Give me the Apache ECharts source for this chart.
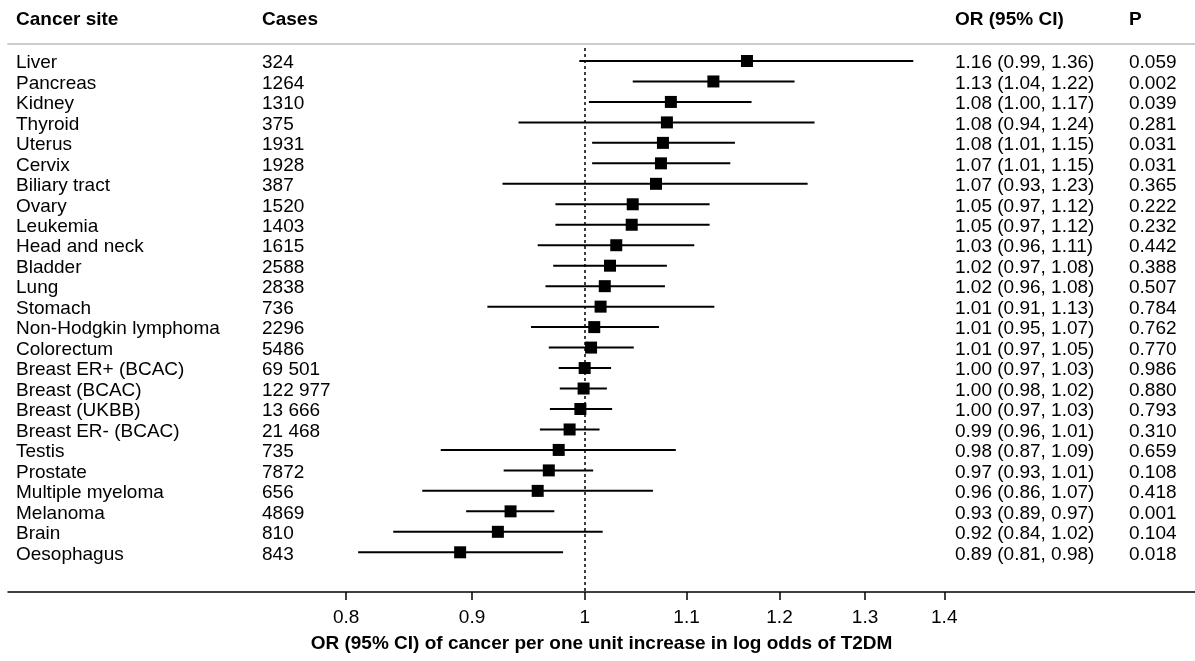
<!DOCTYPE html>
<html>
<head>
<meta charset="utf-8">
<script src="https://cdn.jsdelivr.net/npm/echarts@6/dist/echarts.min.js"></script>
<style>
  html, body { margin: 0; padding: 0; background: #fff; }
  #forest { width: 1195px; height: 661px; }
</style>
</head>
<body>
<div id="forest"></div>
<script>
// rows, top to bottom
var sites = ['Liver', 'Pancreas', 'Kidney', 'Thyroid', 'Uterus', 'Cervix', 'Biliary tract',
  'Ovary', 'Leukemia', 'Head and neck', 'Bladder', 'Lung', 'Stomach', 'Non-Hodgkin lymphoma',
  'Colorectum', 'Breast ER+ (BCAC)', 'Breast (BCAC)', 'Breast (UKBB)', 'Breast ER- (BCAC)',
  'Testis', 'Prostate', 'Multiple myeloma', 'Melanoma', 'Brain', 'Oesophagus'];
var cases = ['324', '1264', '1310', '375', '1931', '1928', '387', '1520', '1403', '1615',
  '2588', '2838', '736', '2296', '5486', '69 501', '122 977', '13 666', '21 468', '735',
  '7872', '656', '4869', '810', '843'];
// odds ratios and 95% CI as drawn
var orVal = [1.164, 1.128, 1.084, 1.080, 1.076, 1.074, 1.069, 1.046, 1.045, 1.030,
  1.024, 1.019, 1.015, 1.009, 1.006, 1.000, 0.999, 0.996, 0.986, 0.976,
  0.967, 0.957, 0.933, 0.922, 0.890];
var ciLow = [0.995, 1.046, 1.004, 0.940, 1.007, 1.007, 0.926, 0.973, 0.973, 0.957,
  0.971, 0.964, 0.913, 0.951, 0.967, 0.976, 0.977, 0.968, 0.959, 0.874,
  0.927, 0.859, 0.895, 0.836, 0.809];
var ciHigh = [1.360, 1.217, 1.169, 1.240, 1.151, 1.146, 1.232, 1.124, 1.124, 1.108,
  1.080, 1.078, 1.129, 1.072, 1.047, 1.025, 1.021, 1.026, 1.014, 1.089,
  1.008, 1.066, 0.972, 1.017, 0.980];
var orText = ['1.16 (0.99, 1.36)', '1.13 (1.04, 1.22)', '1.08 (1.00, 1.17)', '1.08 (0.94, 1.24)',
  '1.08 (1.01, 1.15)', '1.07 (1.01, 1.15)', '1.07 (0.93, 1.23)', '1.05 (0.97, 1.12)',
  '1.05 (0.97, 1.12)', '1.03 (0.96, 1.11)', '1.02 (0.97, 1.08)', '1.02 (0.96, 1.08)',
  '1.01 (0.91, 1.13)', '1.01 (0.95, 1.07)', '1.01 (0.97, 1.05)', '1.00 (0.97, 1.03)',
  '1.00 (0.98, 1.02)', '1.00 (0.97, 1.03)', '0.99 (0.96, 1.01)', '0.98 (0.87, 1.09)',
  '0.97 (0.93, 1.01)', '0.96 (0.86, 1.07)', '0.93 (0.89, 0.97)', '0.92 (0.84, 1.02)',
  '0.89 (0.81, 0.98)'];
var pText = ['0.059', '0.002', '0.039', '0.281', '0.031', '0.031', '0.365', '0.222', '0.232',
  '0.442', '0.388', '0.507', '0.784', '0.762', '0.770', '0.986', '0.880', '0.793', '0.310',
  '0.659', '0.108', '0.418', '0.001', '0.104', '0.018'];
var ticks = [0.8, 0.9, 1, 1.1, 1.2, 1.3, 1.4];

var font = 'Liberation Sans, Arial, Helvetica, sans-serif';
var logTicks = ticks.map(function (t) { return Math.log(t); });

var points = orVal.map(function (v, i) { return [Math.log(v), i]; });
var whiskers = ciLow.map(function (v, i) { return [i, Math.log(v), Math.log(ciHigh[i])]; });

function textAxis(data, left) {
  return {
    type: 'category', gridIndex: 1, position: 'left', offset: 0, inverse: true, data: data,
    axisLine: { show: false }, axisTick: { show: false },
    axisLabel: { interval: 0, align: 'left', margin: -left, fontSize: 19, color: '#000', fontFamily: font }
  };
}
function header(text, left) {
  return { text: text, left: left, top: 10, padding: 0,
    textStyle: { fontSize: 19, fontWeight: 'bold', color: '#000', fontFamily: font } };
}

var chart = echarts.init(document.getElementById('forest'));
chart.setOption({
  backgroundColor: '#fff',
  animation: false,
  title: [header('Cancer site', 16), header('Cases', 262), header('OR (95% CI)', 955), header('P', 1129)],
  grid: [
    { left: 8, right: 0, top: 44, bottom: 69 },
    { left: 0, right: 0, top: 52.8, bottom: 96.5 }
  ],
  xAxis: [
    {
      type: 'value', gridIndex: 0, position: 'bottom', min: -0.5396, max: 0.5711,
      name: 'OR (95% CI) of cancer per one unit increase in log odds of T2DM',
      nameLocation: 'middle', nameGap: 42,
      nameTextStyle: { fontSize: 19, fontWeight: 'bold', color: '#000', fontFamily: font },
      axisLine: { onZero: false, lineStyle: { color: '#000', width: 1.5 } },
      axisTick: { customValues: logTicks, length: 8, lineStyle: { color: '#000', width: 1.5 } },
      axisLabel: {
        customValues: logTicks, margin: 16, fontSize: 19, color: '#000', fontFamily: font,
        formatter: function (v) { return String(Math.round(Math.exp(v) * 10) / 10); }
      },
      splitLine: { show: false }
    },
    {
      type: 'value', gridIndex: 0, position: 'top', min: -0.5396, max: 0.5711,
      axisLine: { onZero: false, lineStyle: { color: '#cccccc', width: 2 } },
      axisTick: { show: false }, axisLabel: { show: false }, splitLine: { show: false }
    },
    { type: 'value', gridIndex: 1, show: false }
  ],
  yAxis: [
    { type: 'value', gridIndex: 0, inverse: true, min: -0.83, max: 25.94, show: false },
    textAxis(sites, 16),
    textAxis(cases, 262),
    textAxis(orText, 955),
    textAxis(pText, 1129)
  ],
  series: [
    {
      type: 'custom',
      xAxisIndex: 0, yAxisIndex: 0,
      encode: { x: [1, 2], y: 0 },
      data: whiskers,
      renderItem: function (params, api) {
        var y = api.value(0);
        var a = api.coord([api.value(1), y]);
        var b = api.coord([api.value(2), y]);
        return {
          type: 'line',
          shape: { x1: a[0], y1: a[1], x2: b[0], y2: b[1] },
          style: { stroke: '#000', lineWidth: 2 }
        };
      },
      z: 2
    },
    {
      type: 'scatter',
      xAxisIndex: 0, yAxisIndex: 0,
      symbol: 'rect', symbolSize: 12,
      itemStyle: { color: '#000', opacity: 1 },
      data: points,
      z: 3,
      markLine: {
        silent: true, symbol: 'none', label: { show: false },
        lineStyle: { color: '#000', type: [3, 3], width: 1.5 },
        data: [[{ coord: [0, -0.63] }, { coord: [0, 25.94] }]]
      }
    }
  ]
});
</script>
</body>
</html>
